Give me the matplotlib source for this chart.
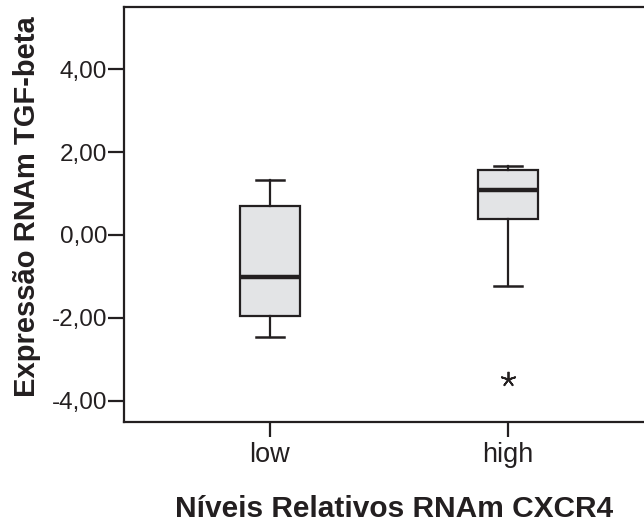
import matplotlib
matplotlib.use("Agg")
import matplotlib.pyplot as plt

plt.rcParams['font.family'] = ['Liberation Sans', 'DejaVu Sans']

categories = ["low", "high"]
whisker_low = [-2.46, -1.23]
q1 = [-1.95, 0.39]
medians = [-1.02, 1.09]
q3 = [0.70, 1.56]
whisker_high = [1.33, 1.67]
outliers = [[], [-3.48]]
y_ticks = [-4.0, -2.0, 0.0, 2.0, 4.0]
y_tick_labels = ["-4,00", "-2,00", "0,00", "2,00", "4,00"]

line_c = "#231f20"
fill_c = "#e3e4e6"

W, H = 644, 523
fig = plt.figure(figsize=(W / 100, H / 100), dpi=100)
ax = fig.add_axes([124 / W, 101.3 / H, 530 / W, 414.7 / H])

stats = []
for i, c in enumerate(categories):
    stats.append(dict(label=c, whislo=whisker_low[i], q1=q1[i], med=medians[i],
                      q3=q3[i], whishi=whisker_high[i], fliers=outliers[i]))

ax.bxp(stats, positions=[1, 2], widths=0.252, patch_artist=True,
       boxprops=dict(facecolor=fill_c, edgecolor=line_c, linewidth=1.6),
       medianprops=dict(color=line_c, linewidth=3.2, solid_capstyle='butt'),
       whiskerprops=dict(color=line_c, linewidth=1.6),
       capprops=dict(color=line_c, linewidth=1.8),
       capwidths=0.12,
       flierprops=dict(marker=(5, 2, 0), markersize=11, markeredgecolor=line_c,
                       markeredgewidth=1.3, linestyle='none'))

ax.set_xlim(0.387, 2.613)
ax.set_ylim(-4.51, 5.5)
ax.set_yticks(y_ticks)
ax.set_yticklabels(y_tick_labels)
ax.set_xticks([1, 2])
ax.set_xticklabels(categories)

for s in ax.spines.values():
    s.set_color(line_c)
    s.set_linewidth(1.6)

ax.tick_params(axis='y', direction='out', length=11.5, width=1.6, color=line_c,
               labelsize=17.5, pad=0.5, labelcolor=line_c)
ax.tick_params(axis='x', direction='out', length=11, width=1.6, color=line_c,
               labelsize=19.5, pad=3.6, labelcolor=line_c)

ax.set_ylabel("Expressão RNAm TGF-beta", fontsize=21, fontweight='bold',
              color=line_c)
ax.yaxis.label.set_va('baseline')
ax.yaxis.set_label_coords(35 / W, (H - 206.5) / H, transform=fig.transFigure)

ax.set_xlabel("Níveis Relativos RNAm CXCR4", fontsize=21.5, fontweight='bold',
              color=line_c)
ax.xaxis.label.set_va('baseline')
ax.xaxis.set_label_coords(394 / W, (H - 517) / H, transform=fig.transFigure)

fig.savefig("out.png", dpi=100)
